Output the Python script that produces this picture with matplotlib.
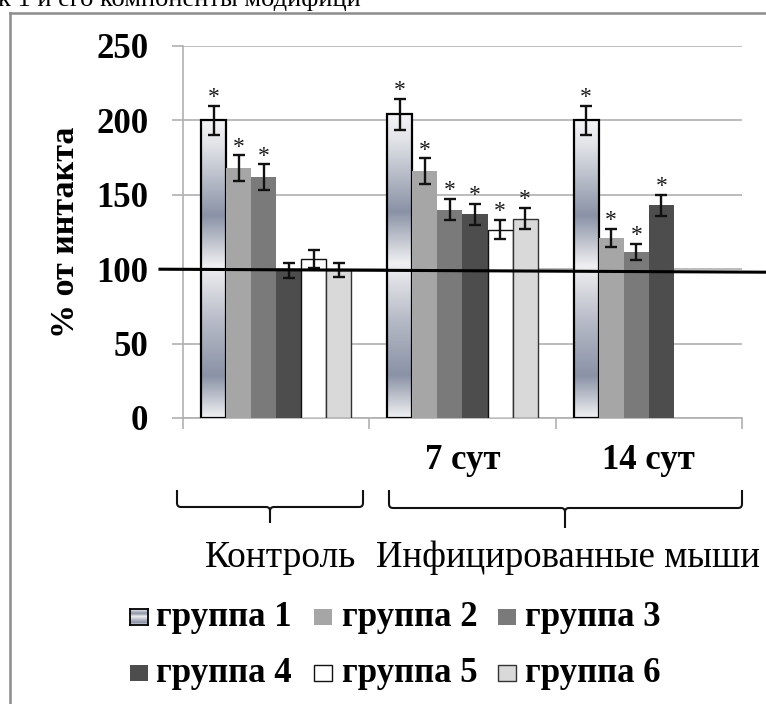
import numpy as np
import matplotlib
matplotlib.use("Agg")
import matplotlib.pyplot as plt
from matplotlib.colors import LinearSegmentedColormap
from matplotlib.patches import Rectangle, PathPatch
from matplotlib.path import Path
from matplotlib.lines import Line2D

# ---- data -------------------------------------------------------------
periods = ["Контроль", "7 сут", "14 сут"]
period_tick_labels = ["", "7 сут", "14 сут"]
group_labels = ["группа 1", "группа 2", "группа 3", "группа 4", "группа 5", "группа 6"]

mean_g1 = [200, 204, 200]
mean_g2 = [168, 166, 121]
mean_g3 = [162, 140, 111.5]
mean_g4 = [99, 137, 143]
mean_g5 = [107, 126.5, np.nan]
mean_g6 = [99.5, 134, np.nan]

err_g1 = [10, 10.5, 10]
err_g2 = [8.5, 8.5, 6]
err_g3 = [8.5, 7, 5.5]
err_g4 = [5, 7, 7]
err_g5 = [6, 6.5, np.nan]
err_g6 = [5, 7, np.nan]

# significance marks (*) per group and period
sig_g1 = [True, True, True]
sig_g2 = [True, True, True]
sig_g3 = [True, True, True]
sig_g4 = [False, True, True]
sig_g5 = [False, True, False]
sig_g6 = [False, True, False]

y_ticks = [0, 50, 100, 150, 200, 250]
reference_level = 100
group_note = ["Контроль", "Инфицированные мыши"]

means = [mean_g1, mean_g2, mean_g3, mean_g4, mean_g5, mean_g6]
errs = [err_g1, err_g2, err_g3, err_g4, err_g5, err_g6]
sigs = [sig_g1, sig_g2, sig_g3, sig_g4, sig_g5, sig_g6]

# ---- styles -----------------------------------------------------------
W, H = 766, 704
SERIF = ["Liberation Serif", "DejaVu Serif"]
face = [None, "#a6a6a6", "#7a7a7a", "#4d4d4d", "#ffffff", "#d9d9d9"]
edge = ["#000000", "none", "none", "none", "#111111", "#333333"]
edge_w = [1.6, 0, 0, 0, 1.0, 1.0]
chrome = LinearSegmentedColormap.from_list(
    "chrome",
    [(0.0, "#f4f4f6"), (0.08, "#e2e4e8"), (0.32, "#8a92a6"), (0.49, "#f0f0f2"),
     (0.68, "#b6bac6"), (0.86, "#8a92a6"), (1.0, "#f0f1f3")])
grad = np.linspace(0, 1, 256).reshape(-1, 1)
GRID = "#b0b0b0"


def fx(px):
    return px / W


def fy(py):
    return 1 - py / H


fig = plt.figure(figsize=(W / 100, H / 100), dpi=100)
ax = fig.add_axes([fx(183), fy(418), fx(742) - fx(183), fy(46) - fy(418)])

n = len(group_labels)
bw = 1 / (n + 1.44)
x = np.arange(len(periods))

for i in range(n):
    pos = x - n * bw / 2 + (i + 0.5) * bw
    vals = np.array(means[i], dtype=float)
    ers = np.array(errs[i], dtype=float)
    ok = ~np.isnan(vals)
    if i == 0:
        for p, v in zip(pos[ok], vals[ok]):
            ax.imshow(grad, cmap=chrome, aspect="auto", origin="upper",
                      extent=[p - bw / 2, p + bw / 2, 0, v], zorder=2)
        ax.bar(pos[ok], vals[ok], bw, facecolor="none", edgecolor=edge[i],
               linewidth=edge_w[i], zorder=3)
    else:
        ax.bar(pos[ok], vals[ok], bw, facecolor=face[i], edgecolor=edge[i],
               linewidth=edge_w[i], zorder=3)
    ax.errorbar(pos[ok], vals[ok], yerr=ers[ok], fmt="none", ecolor="#111111",
                elinewidth=1.7, capsize=4.3, capthick=1.7, zorder=5)
    for p, v, e, s in zip(pos, vals, ers, sigs[i]):
        if s and not np.isnan(v):
            ax.annotate("*", (p, v + e), xytext=(0, 2.0), textcoords="offset points",
                        ha="center", va="baseline", fontsize=17, color="#1a1a1a",
                        family=SERIF, zorder=6)

ax.set_xlim(-0.5, len(periods) - 0.5)
ax.set_ylim(0, 250)
ax.set_yticks(y_ticks)
ax.set_yticklabels([str(t) for t in y_ticks], family=SERIF, fontweight="bold", fontsize=25)
ax.set_xticks(x)
ax.set_xticklabels(period_tick_labels, family=SERIF, fontweight="bold", fontsize=25)
ax.set_xticks(np.arange(len(periods) + 1) - 0.5, minor=True)
ax.tick_params(axis="y", length=8, width=1.2, color=GRID, pad=17)
ax.tick_params(axis="x", which="major", length=0, pad=19)
ax.tick_params(axis="x", which="minor", length=8, width=1.2, color=GRID)
ax.grid(axis="y", color=GRID, linewidth=1.2, zorder=0)
ax.set_axisbelow(True)
for s in ["top", "right"]:
    ax.spines[s].set_visible(False)
for s in ["left", "bottom"]:
    ax.spines[s].set_color(GRID)
    ax.spines[s].set_linewidth(1.2)

# reference level line across the figure
fig.canvas.draw()
y100 = ax.transData.transform((0, reference_level))[1]
fig.add_artist(Line2D([fx(160), 1.0], [y100 / H, (y100 - 3) / H],
                      transform=fig.transFigure, color="#000000", linewidth=2.2, zorder=10))

# y label
fig.text(fx(66), fy(232), "% от интакта", rotation=90, ha="center", va="center",
         family=SERIF, fontweight="bold", fontsize=24.5)


# braces grouping the periods
def brace(x0, x1, xm, y_top, y_mid, y_tip, r=4):
    pts = [(x0, y_top), (x0, y_mid - r), (x0, y_mid), (x0 + r, y_mid),
           (xm - r, y_mid), (xm, y_mid), (xm, y_mid + r), (xm, y_tip),
           (xm, y_mid + r), (xm, y_mid), (xm + r, y_mid),
           (x1 - r, y_mid), (x1, y_mid), (x1, y_mid - r), (x1, y_top)]
    codes = [Path.MOVETO, Path.LINETO, Path.CURVE3, Path.CURVE3,
             Path.LINETO, Path.CURVE3, Path.CURVE3, Path.LINETO,
             Path.MOVETO, Path.CURVE3, Path.CURVE3,
             Path.LINETO, Path.CURVE3, Path.CURVE3, Path.LINETO]
    verts = [(fx(a), fy(b)) for a, b in pts]
    fig.add_artist(PathPatch(Path(verts, codes), transform=fig.transFigure,
                             facecolor="none", edgecolor="#111111", linewidth=1.5))


brace(177, 363, 270, 490, 507, 523)
brace(389, 742, 565, 490, 508, 528)

fig.text(fx(280), fy(567), group_note[0], ha="center", va="baseline",
         family=SERIF, fontsize=27)
fig.text(fx(376), fy(567), group_note[1], ha="left", va="baseline",
         family=SERIF, fontsize=26.5)

# legend, two rows of three entries
patch_x = [130, 314, 498]
text_x = [156, 342, 525]
row_base = [626, 682]
for i, lab in enumerate(group_labels):
    r, c = divmod(i, 3)
    py0 = row_base[r] - 17
    if i == 0:
        pax = fig.add_axes([fx(patch_x[c]), fy(py0 + 16), fx(18), 16 / H])
        pax.imshow(grad, cmap=chrome, aspect="auto")
        pax.set_xticks([])
        pax.set_yticks([])
        for sp in pax.spines.values():
            sp.set_linewidth(1.3)
            sp.set_color("#000000")
    else:
        fig.add_artist(Rectangle((fx(patch_x[c]), fy(py0 + 16)), fx(18), 16 / H,
                                 transform=fig.transFigure, facecolor=face[i],
                                 edgecolor=edge[i] if edge_w[i] else "none",
                                 linewidth=1.0))
    fig.text(fx(text_x[c]), fy(row_base[r]), lab, ha="left", va="baseline",
             family=SERIF, fontweight="bold", fontsize=25)

# page frame and caption text above
fig.add_artist(Line2D([fx(10), fx(10)], [fy(13), 0], transform=fig.transFigure,
                      color="#8c8c8c", linewidth=1.8))
fig.add_artist(Line2D([fx(10), 1.0], [fy(13), fy(13)], transform=fig.transFigure,
                      color="#8c8c8c", linewidth=1.8))
fig.text(fx(-2), fy(6), "к 1 и его компоненты модифици", ha="left", va="baseline",
         family=SERIF, fontsize=19)

fig.savefig("out.png", dpi=100)
